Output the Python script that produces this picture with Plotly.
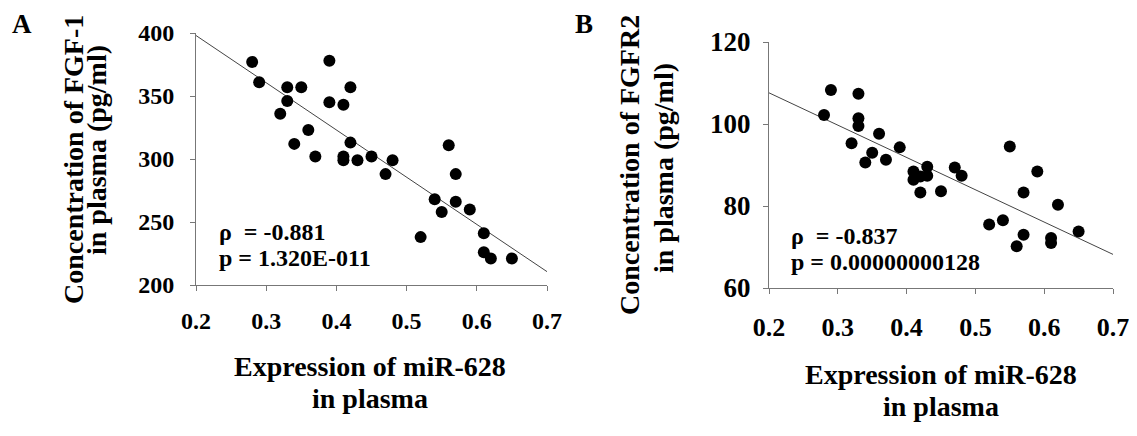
import plotly.graph_objects as go

# ---- data ----
a_x = [0.28, 0.29, 0.33, 0.35, 0.33, 0.32, 0.39, 0.39, 0.41, 0.42, 0.36, 0.34, 0.42, 0.37, 0.41, 0.41,
       0.43, 0.45, 0.48, 0.47, 0.56, 0.57, 0.54, 0.55, 0.57, 0.59, 0.52, 0.61, 0.61, 0.62, 0.65]
a_y = [377, 361, 357, 357, 346, 336, 378, 345, 343, 357, 323, 312, 313, 302, 302, 299,
       299, 302, 299, 288, 311, 288, 268, 258, 266, 260, 238, 241, 226, 221, 221]
a_fit_x = [0.2, 0.7]
a_fit_y = [398, 210.6]

b_x = [0.28, 0.29, 0.33, 0.33, 0.33, 0.32, 0.36, 0.35, 0.34, 0.37, 0.39, 0.41, 0.41, 0.42, 0.43, 0.43,
       0.42, 0.45, 0.47, 0.48, 0.55, 0.59, 0.57, 0.62, 0.52, 0.54, 0.57, 0.56, 0.61, 0.61, 0.65]
b_y = [102.2, 108.3, 107.4, 101.4, 99.5, 95.3, 97.6, 93.0, 90.6, 91.3, 94.3, 88.4, 86.4, 87.2, 89.6, 87.4,
       83.3, 83.6, 89.4, 87.4, 94.5, 88.4, 83.3, 80.3, 75.5, 76.5, 73.0, 70.2, 72.2, 71.0, 73.8]
b_fit_x = [0.2, 0.7]
b_fit_y = [107.6, 68.2]

x_title_lines = ["Expression of miR-628", "in plasma"]
a_y_title_lines = ["Concentration of FGF-1", "in plasma (pg/ml)"]
b_y_title_lines = ["Concentration of FGFR2", "in plasma (pg/ml)"]
a_stats = ["ρ  = -0.881", "p = 1.320E-011"]
b_stats = ["ρ  = -0.837", "p = 0.00000000128"]

W, H = 1137, 436
OFF = 8  # page body margin
FW, FH = W - OFF, H - OFF
FONT = "Liberation Serif"


def px(x):
    return (x - OFF) / FW


def py(y):
    return 1 - (y - OFF) / FH


fig = go.Figure()
fig.add_trace(go.Scatter(x=a_fit_x, y=a_fit_y, mode="lines", line=dict(color="#444", width=1),
                         xaxis="x", yaxis="y", showlegend=False))
fig.add_trace(go.Scatter(x=a_x, y=a_y, mode="markers", marker=dict(color="black", size=12),
                         xaxis="x", yaxis="y", showlegend=False))
fig.add_trace(go.Scatter(x=b_fit_x, y=b_fit_y, mode="lines", line=dict(color="#444", width=1),
                         xaxis="x2", yaxis="y2", showlegend=False))
fig.add_trace(go.Scatter(x=b_x, y=b_y, mode="markers", marker=dict(color="black", size=12),
                         xaxis="x2", yaxis="y2", showlegend=False))


def tf(size):
    return dict(family=FONT, size=size, color="black", weight="bold")


axcommon = dict(showline=True, linecolor="#777", linewidth=1, ticks="outside", ticklen=5,
                tickcolor="#777", showgrid=False, zeroline=False, automargin=False)

fig.update_layout(
    width=FW, height=FH, margin=dict(l=0, r=0, t=0, b=0),
    paper_bgcolor="white", plot_bgcolor="white",
    xaxis=dict(domain=[px(196), px(547)], range=[0.2, 0.7], dtick=0.1, tickformat=".1f",
               anchor="y", tickfont=tf(24), ticklabelstandoff=9, **axcommon),
    yaxis=dict(domain=[py(285), py(33)], range=[200, 400], dtick=50, anchor="x",
               tickfont=tf(24), ticklabelstandoff=11, **axcommon),
    xaxis2=dict(domain=[px(769), px(1113)], range=[0.2, 0.7], dtick=0.1, tickformat=".1f",
                anchor="y2", tickfont=tf(26), ticklabelstandoff=11, **axcommon),
    yaxis2=dict(domain=[py(288), py(42)], range=[60, 120], dtick=20, anchor="x2",
                tickfont=tf(27), ticklabelstandoff=7, **axcommon),
)

ann = []


def add(text, x, y, size, xanchor="center", **kw):
    ann.append(dict(text=text, x=px(x), y=py(y), xref="paper", yref="paper", showarrow=False,
                    xanchor=xanchor, yanchor="middle", borderpad=0, font=tf(size), **kw))


add("A", 22, 24, 27)
add("B", 584, 24, 27)
# x titles
add(x_title_lines[0], 370, 366, 28)
add(x_title_lines[1], 370, 398, 28)
add(x_title_lines[0], 941, 374, 28)
add(x_title_lines[1], 941, 406, 28)
# y titles
add(a_y_title_lines[0], 73, 160, 28, textangle=-90)
add(a_y_title_lines[1], 96, 150, 28, textangle=-90)
add(b_y_title_lines[0], 629, 165, 28, textangle=-90)
add(b_y_title_lines[1], 663, 168, 28, textangle=-90)
# stats
add(a_stats[0], 218, 232, 24, xanchor="left")
add(a_stats[1], 218, 258, 24, xanchor="left")
add(b_stats[0], 790, 236, 24, xanchor="left")
add(b_stats[1], 790, 262, 24, xanchor="left")
fig.update_layout(annotations=ann)

fig.write_html("out.html")
